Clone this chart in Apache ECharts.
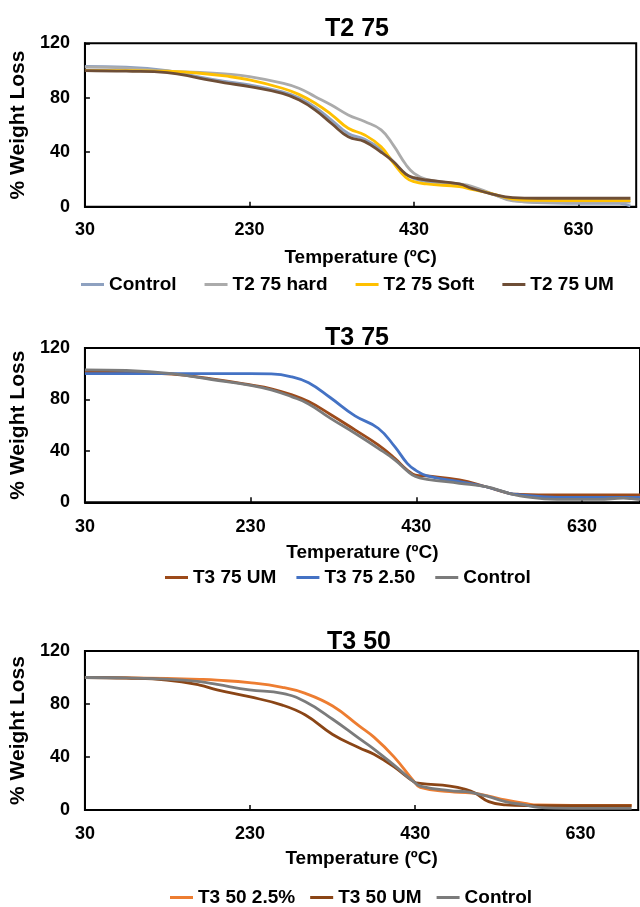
<!DOCTYPE html>
<html>
<head>
<meta charset="utf-8">
<script src="https://cdn.jsdelivr.net/npm/echarts@6/dist/echarts.min.js"></script>
<style>
  html, body { margin: 0; padding: 0; background: #fff; }
  #chart { width: 640px; height: 907px; }
</style>
</head>
<body>
<div id="chart"></div>
<script>
// ---- TGA curves: temperature (ºC) vs % weight remaining ----

// T2 75 panel
const t2Temps    = [30, 80, 130, 170, 200, 230, 270, 290, 310, 330, 350, 370, 390, 405, 420, 430, 445, 485, 500, 525, 550, 580, 630, 680, 693];
const t2Control  = [103, 102.5, 100, 95.2, 92, 89.4, 84.3, 80, 73, 63.5, 53.8, 49.5, 42, 33, 24, 20.5, 18.5, 16, 13.5, 9.3, 4.6, 3, 2.5, 2.5, 0.5];
const t2Hard     = [102.5, 101.8, 99.5, 98.7, 97.5, 95.5, 90.7, 87, 80.8, 74.5, 67.4, 62.5, 56.4, 45, 31, 24.5, 20.1, 16.7, 15, 9.5, 4.2, 3.2, 3.2, 3.4, 3.4];
const t2Soft     = [100, 100, 99.5, 98, 96, 93.1, 87, 82.5, 76, 67.5, 57.6, 52.7, 44, 32, 21.5, 18.4, 16.7, 14.7, 12.7, 9.5, 5.6, 4.6, 4.4, 4.4, 4.4];
const t2UM       = [100, 99.5, 98.5, 94.3, 91, 88.2, 83.3, 78.5, 71, 61, 51.4, 47.8, 40, 33, 24, 21.3, 19.6, 16.7, 13.5, 9.3, 6.6, 6.2, 6.2, 6.2, 6.2];

// T3 75 panel
const t375Temps   = [30, 80, 135, 183, 230, 255, 280, 300, 326, 356, 384, 404, 419, 429, 443, 482, 514, 542, 555, 600, 650, 680, 690, 700];
const t375UM      = [101.5, 101, 99.7, 96, 91.3, 88.3, 83.5, 78.3, 68.5, 56.3, 44.6, 34.2, 25.1, 21.2, 20.5, 17.4, 12.1, 7, 6.2, 5.7, 5.7, 5.7, 5.7, 5.7];
const t375Treated = [100, 100, 100, 100, 100, 99.8, 97.5, 93, 81.5, 67.2, 57.6, 43.3, 30.3, 25, 20.5, 16.1, 12.1, 7, 5.8, 3.9, 3.9, 3.9, 3.9, 3.9];
const t375Control = [103, 102.5, 100, 95.5, 91, 87.5, 82, 76.5, 65.5, 53.7, 42, 33, 24.4, 20, 17.9, 14.8, 12.1, 7, 5, 2.3, 2.3, 3.2, 2.8, 2];

// T3 50 panel
const t350Temps   = [30, 80, 129, 169, 190, 229, 269, 297, 330, 362, 380, 404, 428, 436, 472, 491, 503, 519, 539, 563, 579, 620, 692];
const t350Treated = [100, 99.8, 99.3, 98.6, 98, 96.1, 92.6, 88, 78.5, 63.5, 55, 40.3, 22, 17.1, 13.8, 13.1, 12.6, 10.5, 7.6, 5, 3.8, 3.5, 3.5];
const t350UM      = [100, 99.5, 98.1, 94.3, 90.6, 85.5, 79.2, 71.7, 57, 47, 42, 32.7, 21.4, 20.1, 18.1, 15.6, 12.6, 6.3, 3.8, 3.3, 3.3, 3.3, 3.3];
const t350Control = [100, 99.7, 98.8, 96.9, 94.8, 90.6, 88, 81.7, 68.5, 54, 46, 34, 21.4, 18.1, 14.6, 13.8, 12.6, 10.1, 6.3, 3.8, 2, 1.3, 1.3];

// Axis tick labels
const xTickLabels = [30, 230, 430, 630];
const xAxisEnd = 700;
const yTickLabels = [0, 40, 80, 120];

// ---- layout and styling ----
const FONT = "'Liberation Sans', Arial, Helvetica, sans-serif";

const panels = [
  {
    title: 'T2 75', titleTop: 12, titleX: 352,
    grid: { left: 75.7, top: 43.3, width: 560.5, height: 163.4 },
    xNameGap: 42, xLabelMargin: 14,
    legend: { left: 76, top: 270, itemGap: 28 },
    lines: [
      { key: 'Control|a', temps: t2Temps, values: t2Control, color: '#8EA1C0' },
      { key: 'T2 75 hard|a', temps: t2Temps, values: t2Hard, color: '#ABABAB' },
      { key: 'T2 75 Soft|a', temps: t2Temps, values: t2Soft, color: '#FFC000' },
      { key: 'T2 75 UM|a', temps: t2Temps, values: t2UM, color: '#6E4E36' }
    ]
  },
  {
    title: 'T3 75', titleTop: 321, titleX: 352,
    grid: { left: 81, top: 348, width: 566.2, height: 154.3 },
    xNameGap: 41, xLabelMargin: 16,
    legend: { left: 160, top: 563, itemGap: 20 },
    lines: [
      { key: 'T3 75 UM|b', temps: t375Temps, values: t375UM, color: '#9C4A1A' },
      { key: 'T3 75 2.50|b', temps: t375Temps, values: t375Treated, color: '#4472C4' },
      { key: 'Control|b', temps: t375Temps, values: t375Control, color: '#7B7B7B' }
    ]
  },
  {
    title: 'T3 50', titleTop: 625, titleX: 354,
    grid: { left: 76.7, top: 651, width: 561.5, height: 159 },
    xNameGap: 39, xLabelMargin: 15,
    legend: { left: 165, top: 883, itemGap: 15 },
    lines: [
      { key: 'T3 50 2.5%|c', temps: t350Temps, values: t350Treated, color: '#ED7D31' },
      { key: 'T3 50 UM|c', temps: t350Temps, values: t350UM, color: '#8A4516' },
      { key: 'Control|c', temps: t350Temps, values: t350Control, color: '#7B7B7B' }
    ]
  }
];

const boldText = (size) => ({ fontFamily: FONT, fontWeight: 'bold', fontSize: size, color: '#000' });

const option = {
  animation: false,
  backgroundColor: '#fff',
  title: [], legend: [], grid: [], xAxis: [], yAxis: [], series: []
};

panels.forEach((p, i) => {
  option.title.push({
    text: p.title, left: p.titleX, top: p.titleTop, textAlign: 'center',
    textStyle: boldText(25)
  });
  option.grid.push(Object.assign({ show: true, borderColor: '#000', borderWidth: 2, backgroundColor: 'transparent' }, p.grid));
  option.xAxis.push({
    gridIndex: i, type: 'value',
    min: xTickLabels[0], max: xAxisEnd, interval: xTickLabels[1] - xTickLabels[0],
    name: 'Temperature (ºC)', nameLocation: 'middle', nameGap: p.xNameGap,
    nameTextStyle: boldText(19),
    axisLine: { show: true, lineStyle: { color: '#000', width: 2 } },
    axisTick: { show: true, inside: true, length: 5, lineStyle: { color: '#000', width: 1.5 } },
    axisLabel: Object.assign({ showMaxLabel: false, margin: p.xLabelMargin }, boldText(18)),
    splitLine: { show: false }
  });
  option.yAxis.push({
    gridIndex: i, type: 'value',
    min: yTickLabels[0], max: yTickLabels[yTickLabels.length - 1], interval: yTickLabels[1] - yTickLabels[0],
    name: '% Weight Loss', nameLocation: 'middle', nameRotate: 90, nameGap: 46,
    nameTextStyle: boldText(21),
    axisLine: { show: true, lineStyle: { color: '#000', width: 2 } },
    axisTick: { show: true, inside: true, length: 5, lineStyle: { color: '#000', width: 1.5 } },
    axisLabel: Object.assign({ margin: 15 }, boldText(18)),
    splitLine: { show: false }
  });
  option.legend.push({
    left: p.legend.left, top: p.legend.top, itemGap: p.legend.itemGap,
    icon: 'rect', itemWidth: 23, itemHeight: 3,
    data: p.lines.map(l => l.key),
    formatter: (name) => name.split('|')[0],
    textStyle: boldText(19)
  });
  p.lines.forEach(l => {
    option.series.push({
      type: 'line', name: l.key,
      xAxisIndex: i, yAxisIndex: i,
      data: l.temps.map((t, k) => [t, l.values[k]]),
      smooth: 0.45,
      showSymbol: false, symbol: 'none',
      color: l.color,
      lineStyle: { width: 2.8, color: l.color },
      itemStyle: { color: l.color }
    });
  });
});

const chart = echarts.init(document.getElementById('chart'), null, { renderer: 'canvas' });
chart.setOption(option);
</script>
</body>
</html>
